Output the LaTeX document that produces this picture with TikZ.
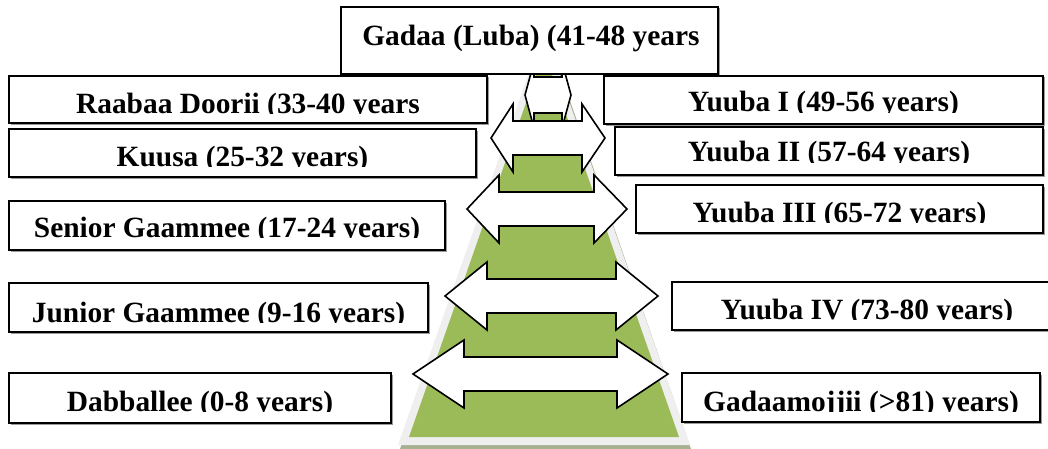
\documentclass[tikz,border=0pt]{standalone}
\usepackage{fontspec}
\setmainfont{Liberation Serif}
\definecolor{trgreen}{HTML}{9BBB59}
\definecolor{trborder}{HTML}{EFEFEF}
\definecolor{trshadow}{HTML}{A8B092}
\definecolor{boxshadow}{HTML}{9A9A9A}
\tikzset{
  lbox/.style={draw=black, fill=white, line width=0.8pt},
  lshadow/.style={fill=boxshadow},
  arr/.style={draw=black, fill=white, line width=0.8pt, line join=miter},
  ltext/.style={anchor=base, inner sep=0pt, font=\bfseries\fontsize{14.7pt}{16pt}\selectfont}
}
\newcommand{\dblarr}[7]{%
  \draw[arr] (#2,#1) -- (#3,#1-#6) -- (#3,#1-#7) -- (#4,#1-#7) -- (#4,#1-#6) -- (#5,#1)
    -- (#4,#1+#6) -- (#4,#1+#7) -- (#3,#1+#7) -- (#3,#1+#6) -- cycle;}
% label box: #1 name, #2 x1, #3 y1, #4 x2, #5 y2, #6 baseline, #7 text
\newcommand{\lblbox}[7]{%
  \fill[lshadow] (#2+1.5,#3+1.5) rectangle (#4+1.5,#5+1.5);
  \draw[lbox] (#2,#3) rectangle (#4,#5);
  \begin{scope}
    \clip (#2,#3) rectangle (#4,#6+0.3);
    \node[ltext] (#1) at ({(#2+#4)/2},#6) {#7};
  \end{scope}}
\begin{document}
\begin{tikzpicture}[x=0.5pt,y=-0.5pt]
\clip (0,0) rectangle (1048,449);
\fill[white] (0,0) rectangle (1048,449);
% pyramid
\fill[trshadow] (400,449) -- (531,72) -- (560,72) -- (691,449) -- cycle;
\fill[trborder] (398,445) -- (530,70) -- (558,70) -- (690,445) -- cycle;
\fill[trgreen] (409,437) -- (537.5,70) -- (550.5,70) -- (679,437) -- cycle;
% double arrows
\dblarr{95}{525}{534}{562}{571}{33}{18}
\dblarr{138}{491}{513}{582}{605}{34}{17}
\dblarr{209}{467}{499}{594}{627}{34}{17}
\dblarr{296}{445}{487}{616}{658}{34}{17}
\dblarr{374}{413}{464}{617}{668}{34}{17}
% top box (not clipped)
\fill[lshadow] (342.5,8.5) rectangle (719.5,75.5);
\draw[lbox] (341,7) rectangle (718,74);
\node[ltext] (gadaa) at (531,46) {Gadaa (Luba) (41-48 years};
% left boxes
\lblbox{raabaa}{9}{76}{487}{123}{113}{Raabaa Doorii (33-40 years}
\lblbox{kuusa}{9}{129}{476}{177}{166}{Kuusa (25-32 years)}
\lblbox{senior}{9}{201}{445}{250}{237}{Senior Gaammee (17-24 years)}
\lblbox{junior}{9}{283}{428}{332}{322}{Junior Gaammee (9-16 years)}
\lblbox{dabballee}{9}{373}{391}{423}{411}{Dabballee (0-8 years)}
% right boxes
\lblbox{yuubaI}{604}{76}{1043}{124}{112}{Yuuba I (49-56 years)}
\lblbox{yuubaII}{615}{127}{1043}{175}{162}{Yuuba II (57-64 years)}
\lblbox{yuubaIII}{636}{185}{1043}{233}{222}{Yuuba III (65-72 years)}
\lblbox{yuubaIV}{672}{282}{1062}{330}{319}{Yuuba IV (73-80 years)}
\lblbox{gadaamojjii}{682}{373}{1040}{422}{411}{Gadaamojjii (>81) years)}
\end{tikzpicture}
\end{document}
